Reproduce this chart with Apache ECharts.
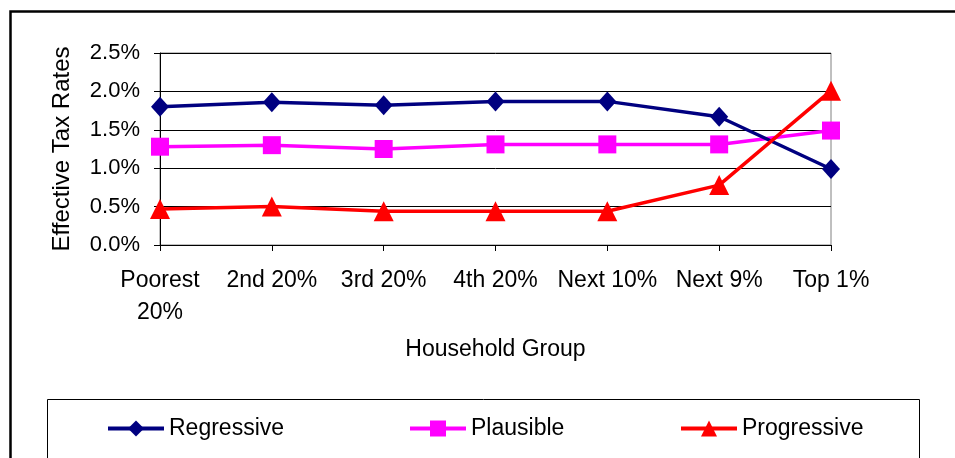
<!DOCTYPE html>
<html>
<head>
<meta charset="utf-8">
<script src="https://cdn.jsdelivr.net/npm/echarts@6/dist/echarts.min.js"></script>
<style>
html,body{margin:0;padding:0;background:#fff;}
#chart{width:955px;height:458px;}
</style>
</head>
<body>
<div id="chart"></div>
<script>
const categories = ['Poorest\n20%', '2nd 20%', '3rd 20%', '4th 20%', 'Next 10%', 'Next 9%', 'Top 1%'];
const regressive = [1.80, 1.86, 1.82, 1.87, 1.87, 1.67, 0.99];
const plausible = [1.28, 1.30, 1.25, 1.31, 1.31, 1.31, 1.49];
const progressive = [0.47, 0.50, 0.44, 0.44, 0.44, 0.78, 2.01];
const yTicks = [0, 0.5, 1.0, 1.5, 2.0, 2.5];

const FONT = 'Liberation Sans, Arial, sans-serif';
const chart = echarts.init(document.getElementById('chart'), null, {renderer: 'canvas'});

function legend(name, left) {
  return {
    data: [name], left: left, top: 417, itemWidth: 56, itemHeight: 20, padding: 0,
    lineStyle: {width: 4},
    textStyle: {fontFamily: FONT, fontSize: 23, color: '#000'},
    selectedMode: false
  };
}

chart.setOption({
  animation: false,
  backgroundColor: '#fff',
  graphic: [
    {type: 'rect', shape: {x: 10.5, y: 11.5, width: 1000, height: 600}, style: {fill: 'none', stroke: '#000', lineWidth: 2.5}, silent: true},
    {type: 'rect', shape: {x: 47.5, y: 399.5, width: 872, height: 100}, style: {fill: 'none', stroke: '#000', lineWidth: 1}, silent: true}
  ],
  grid: {left: 160, right: 124, top: 53, bottom: 213, show: true, borderColor: '#808080', borderWidth: 1, containLabel: false},
  legend: [legend('Regressive', 106), legend('Plausible', 408), legend('Progressive', 679)],
  xAxis: {
    type: 'category', data: categories, boundaryGap: false,
    name: 'Household Group', nameLocation: 'middle', nameGap: 93,
    nameTextStyle: {fontFamily: FONT, fontSize: 23, color: '#000'},
    axisLine: {lineStyle: {color: '#000', width: 1}},
    axisTick: {show: true, length: 6, lineStyle: {color: '#000'}},
    axisLabel: {fontFamily: FONT, fontSize: 23, color: '#000', margin: 20, lineHeight: 32, interval: 0},
    splitLine: {show: false}
  },
  yAxis: {
    type: 'value', min: 0, max: 2.5, interval: 0.5,
    name: 'Effective Tax Rates', nameLocation: 'middle', nameGap: 86,
    nameTextStyle: {fontFamily: FONT, fontSize: 24, color: '#000'},
    axisLine: {show: true, lineStyle: {color: '#000', width: 1}},
    axisTick: {show: true, length: 6, lineStyle: {color: '#000'}},
    axisLabel: {fontFamily: FONT, fontSize: 22, color: '#000', margin: 20,
      formatter: v => yTicks.includes(v) ? v.toFixed(1) + '%' : ''},
    splitLine: {show: true, lineStyle: {color: '#000', width: 1}}
  },
  series: [
    {name: 'Regressive', type: 'line', data: regressive, symbol: 'diamond', symbolSize: [18, 20],
     lineStyle: {color: '#000080', width: 3.5}, itemStyle: {color: '#000080'}, z: 3},
    {name: 'Plausible', type: 'line', data: plausible, symbol: 'rect', symbolSize: 18,
     lineStyle: {color: '#FF00FF', width: 3.5}, itemStyle: {color: '#FF00FF'}, z: 2},
    {name: 'Progressive', type: 'line', data: progressive, symbol: 'triangle', symbolSize: [20, 20],
     lineStyle: {color: '#FF0000', width: 3.5}, itemStyle: {color: '#FF0000'}, z: 4}
  ]
});
</script>
</body>
</html>
